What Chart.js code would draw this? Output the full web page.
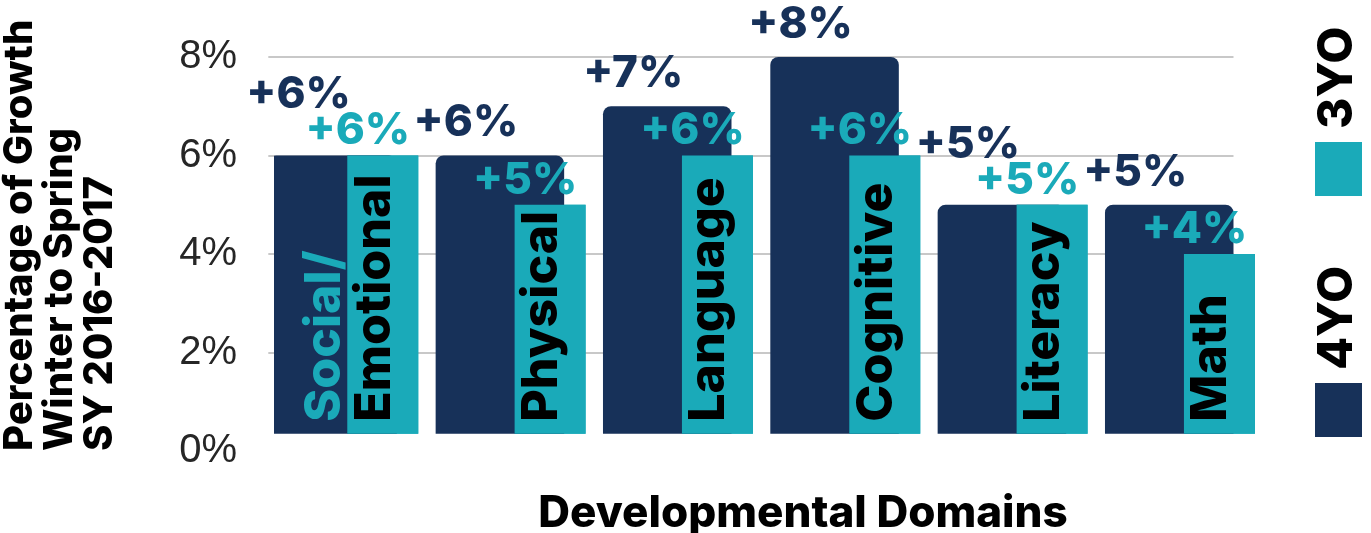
<!DOCTYPE html>
<html><head><meta charset="utf-8">
<script src="https://cdn.jsdelivr.net/npm/chart.js@4.4.1/dist/chart.umd.min.js"></script>
<style>html,body{margin:0;padding:0;background:#fff;}canvas{display:block;}</style>
</head><body>
<canvas id="c" width="1371" height="533"></canvas>
<script>
// ---- data ----
const categories = [['Social/', 'Emotional'], ['Physical'], ['Language'], ['Cognitive'], ['Literacy'], ['Math']];
const seriesNames = ['4YO', '3YO'];
const growth4YO = [6, 6, 7, 8, 5, 5];
const growth3YO = [6, 5, 6, 6, 5, 4];
const yTicks = [0, 2, 4, 6, 8];
const yTitle = ['Percentage of Growth', 'Winter to Spring', 'SY 2016-2017'];
const xTitle = 'Developmental Domains';

// ---- styles ----
const NAVY = '#173159';
const TEAL = '#1aaab9';
const FONT = 'Inter, Lato, sans-serif';
const HEAVY = '800';
const CAP = 0.727;

const gridPlugin = {
  id: 'customGrid',
  beforeDatasetsDraw(chart) {
    const ctx = chart.ctx, y = chart.scales.y;
    const bars = chart.getDatasetMeta(0).data;
    const first = bars[0], last = bars[bars.length - 1];
    const x0 = first.x - first.width / 2, x1 = last.x + last.width / 2;
    ctx.save();
    ctx.strokeStyle = '#c8c8c8';
    ctx.lineWidth = 2;
    y.ticks.forEach(t => {
      if (t.value <= 0) return;
      const py = Math.round(y.getPixelForValue(t.value));
      ctx.beginPath(); ctx.moveTo(x0, py); ctx.lineTo(x1, py); ctx.stroke();
    });
    ctx.restore();
  }
};

const overlayPlugin = {
  id: 'overlay',
  afterDatasetsDraw(chart) {
    const ctx = chart.ctx;
    const navyMeta = chart.getDatasetMeta(0), tealMeta = chart.getDatasetMeta(1);
    // teal bars sit in front of the navy ones
    tealMeta.controller.draw();

    // category names written up the bars
    const catSize = 50, catLine = 50;
    ctx.save();
    ctx.font = `${HEAVY} ${catSize}px ${FONT}`;
    ctx.textBaseline = 'alphabetic';
    ctx.textAlign = 'left';
    tealMeta.data.forEach((bar, i) => {
      const lines = [].concat(chart.data.labels[i]);
      const left = bar.x - bar.width / 2;
      const baseX = left + 6 + CAP * catSize;
      const startY = bar.base - 12;
      lines.forEach((line, j) => {
        const bx = baseX - (lines.length - 1 - j) * catLine;
        ctx.save();
        ctx.translate(bx, startY);
        ctx.rotate(-Math.PI / 2);
        ctx.fillStyle = j === lines.length - 1 ? '#000' : TEAL;
        ctx.fillText(line, 0, 0);
        ctx.restore();
      });
    });
    ctx.restore();

    // value labels
    const valSize = 44;
    ctx.save();
    ctx.font = `${HEAVY} ${valSize}px ${FONT}`;
    ctx.textAlign = 'center';
    ctx.textBaseline = 'alphabetic';
    const d0 = chart.data.datasets[0].data, d1 = chart.data.datasets[1].data;
    tealMeta.data.forEach((tb, i) => {
      const nb = navyMeta.data[i];
      const tx = tb.x - 25, ty = tb.y - 27;
      const nx = nb.x - 34, ny = Math.min(nb.y - 35, ty - 36);
      ctx.fillStyle = NAVY;
      ctx.fillText('+' + d0[i] + '%', nx, ny + CAP * valSize / 2);
      ctx.fillStyle = TEAL;
      ctx.fillText('+' + d1[i] + '%', tx, ty + CAP * valSize / 2);
    });
    ctx.restore();
  }
};

const titleAndLegendPlugin = {
  id: 'rotLegend',
  afterDraw(chart) {
    const ctx = chart.ctx, area = chart.chartArea, xs = chart.scales.x;
    // x axis title, set a little right of the plot centre
    ctx.save();
    ctx.font = `${HEAVY} 44px ${FONT}`;
    ctx.fillStyle = '#000';
    ctx.textAlign = 'center';
    ctx.textBaseline = 'alphabetic';
    ctx.fillText(xTitle, (area.left + area.right) / 2 + 27, xs.bottom - 6);
    ctx.restore();

    // legend, turned on its side
    ctx.save();
    ctx.translate(1315, 437);
    ctx.rotate(-Math.PI / 2);
    ctx.font = `${HEAVY} 48px ${FONT}`;
    ctx.textBaseline = 'alphabetic';
    ctx.textAlign = 'left';
    let u = 0;
    chart.data.datasets.forEach(ds => {
      ctx.fillStyle = ds.backgroundColor;
      ctx.fillRect(u, 0, 54, 47);
      u += 54 + 13;
      ctx.fillStyle = '#000';
      ctx.fillText(ds.label, u, 37);
      u += ctx.measureText(ds.label).width + 70;
    });
    ctx.restore();
  }
};

new Chart(document.getElementById('c'), {
  type: 'bar',
  data: {
    labels: categories,
    datasets: [
      { label: seriesNames[0], data: growth4YO, backgroundColor: NAVY,
        categoryPercentage: 0.6, barPercentage: 2.56, base: 0.35,
        borderRadius: 8, borderSkipped: 'start' },
      { label: seriesNames[1], data: growth3YO, backgroundColor: TEAL,
        categoryPercentage: 0.6, barPercentage: 1.414, base: 0.35,
        borderRadius: 0 }
    ]
  },
  options: {
    responsive: false,
    animation: false,
    layout: { padding: { top: 57, right: 93, left: 0, bottom: 0 } },
    plugins: { legend: { display: false }, tooltip: { enabled: false } },
    scales: {
      x: {
        grid: { display: false, drawTicks: false },
        border: { display: false },
        ticks: { display: false },
        title: { display: false, text: xTitle },
        afterFit(s) { s.height = 82; }
      },
      y: {
        min: 0, max: 8,
        afterBuildTicks(s) { s.ticks = yTicks.map(v => ({ value: v })); },
        ticks: { padding: 0, color: '#262626',
          font: { family: '"Liberation Sans", Arial, sans-serif', size: 40 },
          callback: v => v + '%' },
        grid: { display: false, drawTicks: true, tickLength: 37 },
        border: { display: false },
        title: { display: true, text: yTitle, align: 'start', color: '#000',
          font: { family: FONT, size: 40, weight: HEAVY, lineHeight: 1.0 },
          padding: { top: 0, bottom: 0 } },
        afterFit(s) { s.width = 274; }
      }
    }
  },
  plugins: [gridPlugin, overlayPlugin, titleAndLegendPlugin]
});
</script>
</body></html>
